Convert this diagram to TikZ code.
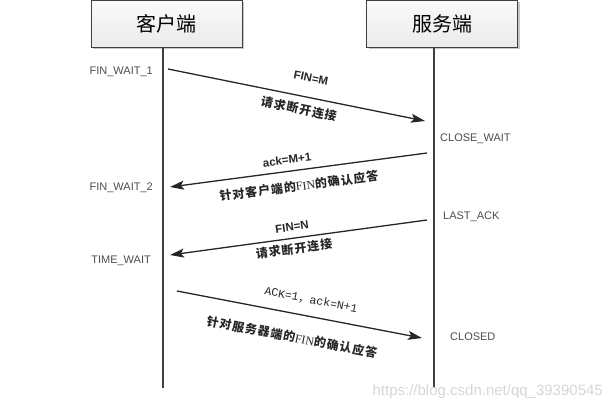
\documentclass[tikz,border=0pt]{standalone}
\usepackage{fontspec}
\setmainfont{Liberation Sans}
\newfontfamily\cjk{Noto Sans CJK SC}
\newfontfamily\cjklab[LetterSpace=8]{Noto Sans CJK SC}
\newfontfamily\monof{Liberation Mono}
\newfontfamily\serf{Liberation Serif}
\usetikzlibrary{arrows.meta,shadows}
\definecolor{linec}{HTML}{262626}
\definecolor{lifec}{HTML}{404040}
\definecolor{statec}{HTML}{4D4D4D}
\tikzset{
  party/.style={draw=lifec, line width=1pt, top color=gray!4, bottom color=gray!16,
    minimum width=151pt, minimum height=47pt, inner sep=0pt,
    font=\cjk\fontsize{20}{22}\selectfont,
    drop shadow={shadow xshift=2pt, shadow yshift=-2pt, fill=black!22, opacity=1}},
  lifeline/.style={draw=lifec, line width=1.6pt},
  msg/.style={draw=linec, line width=1.3pt, -{Stealth[length=14pt,width=9pt,inset=3pt]}},
  state/.style={text=statec, inner sep=0pt, font=\fontsize{11}{13}\selectfont},
  tag/.style={text=linec, inner sep=0pt, font=\bfseries\fontsize{11.5}{13}\selectfont},
  cnlab/.style={text=linec, inner sep=0pt, font=\cjklab\bfseries\fontsize{12}{14}\selectfont},
  monolab/.style={text=linec, inner sep=0pt, font=\monof\fontsize{11.5}{13}\selectfont},
  mark wm/.style={text=gray!32, inner sep=0pt, font=\fontsize{15}{17}\selectfont}
}
\begin{document}
\begin{tikzpicture}[x=1pt,y=-1pt]
\useasboundingbox (0,0) rectangle (612,410);
% parties
\node[party] (client) at (166.5,23.5) {客户端};
\node[party] (server) at (442,23.5) {服务端};
% lifelines
\coordinate (clend) at (163,388);
\coordinate (svend) at (434,388);
\draw[lifeline] (client.south -| clend) -- (clend);
\draw[lifeline] (server.south -| svend) -- (svend);
% message end points
\coordinate (a1s) at (168,69);  \coordinate (a1e) at (425,121);
\coordinate (a2s) at (427,153); \coordinate (a2e) at (170,187);
\coordinate (a3s) at (427,220); \coordinate (a3e) at (170,255);
\coordinate (a4s) at (177,291); \coordinate (a4e) at (422,338);
\draw[msg] (a1s) -- (a1e);
\draw[msg] (a2s) -- (a2e);
\draw[msg] (a3s) -- (a3e);
\draw[msg] (a4s) -- (a4e);
% message labels
\node[tag, rotate=-11.4] (l1a) at (311,78) {FIN=M};
\node[cnlab, rotate=-11.4] (l1b) at (299,109) {请求断开连接};
\node[tag, rotate=7.5] (l2a) at (287,160) {ack=M+1};
\node[cnlab, rotate=7.5] (l2b) at (299,186) {针对客户端的{\serf\mdseries FIN}的确认应答};
\node[tag, rotate=7.8] (l3a) at (292,227) {FIN=N};
\node[cnlab, rotate=7.8] (l3b) at (294,249) {请求断开连接};
\node[monolab, rotate=-10.9] (l4a) at (311,300) {ACK=1{\cjk ，}ack=N+1};
\node[cnlab, rotate=-10.9] (l4b) at (292,337) {针对服务器端的{\serf\mdseries FIN}的确认应答};
% states
\node[state, anchor=east] (s1) at (153,72) {FIN\_WAIT\_1};
\node[state, anchor=east] (s2) at (153,188) {FIN\_WAIT\_2};
\node[state, anchor=east] (s3) at (151,261) {TIME\_WAIT};
\node[state, anchor=west] (s4) at (440,139) {CLOSE\_WAIT};
\node[state, anchor=west] (s5) at (443,217) {LAST\_ACK};
\node[state, anchor=west] (s6) at (450,337) {CLOSED};
% watermark
\node[mark wm, anchor=east] (wm) at (603,392) {https://blog.csdn.net/qq\_39390545};
\end{tikzpicture}
\end{document}
